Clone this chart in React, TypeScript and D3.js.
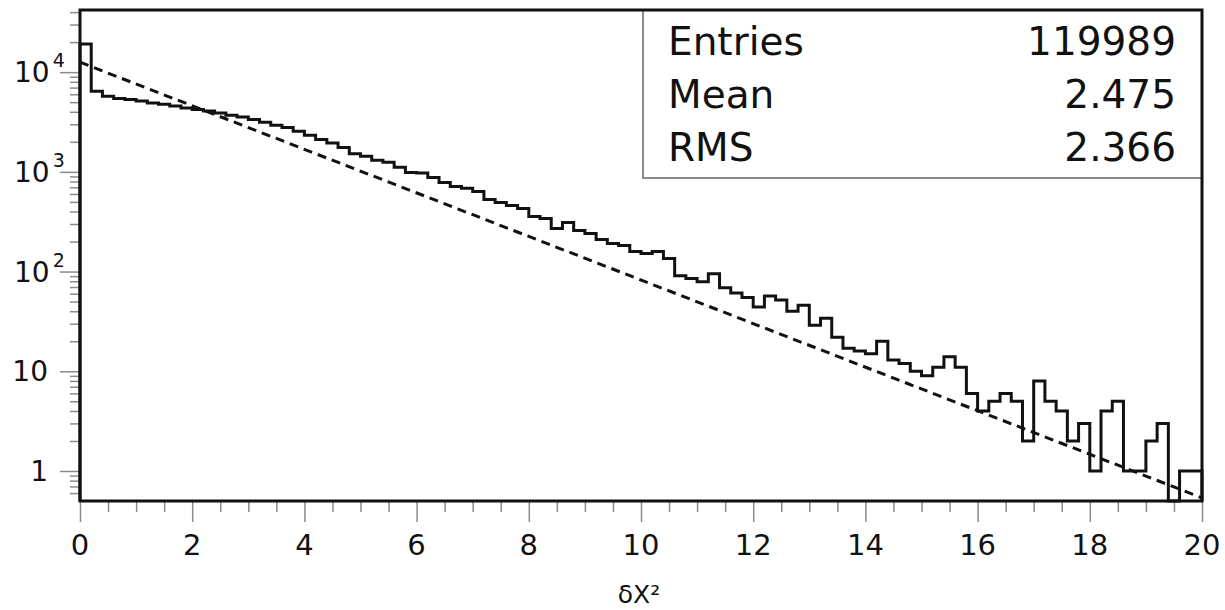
import { useRef, useLayoutEffect } from 'react';
import * as d3 from 'd3';

// histogram: 100 bins of width 0.2 over [0, 20]
const binWidth = 0.2;
const binCounts = [
  19100, 6440, 5740, 5450, 5320, 5150, 4915, 4765, 4580, 4375,
  4220, 4080, 3900, 3700, 3555, 3350, 3145, 2930, 2780, 2550,
  2330, 2105, 1950, 1750, 1520, 1430, 1306, 1245, 1110, 988,
  975, 880, 784, 715, 683, 637, 529, 494, 461, 430,
  357, 341, 271, 311, 258, 241, 210, 191, 183, 159,
  152, 159, 135, 91, 85, 79, 95, 69, 61, 55,
  44, 57, 52, 40, 46, 29, 34, 22, 17, 16,
  15, 20, 13, 12, 10, 9, 11, 14, 11, 6,
  4, 5, 6, 5, 2, 8, 5, 4, 2, 3,
  1, 4, 5, 1, 1, 2, 3, 0, 1, 1,
];

// exponential fit: exp(constant + slope * x)
const fitConstant = 9.44;
const fitSlope = -0.503;

const xMajorTicks = [0, 2, 4, 6, 8, 10, 12, 14, 16, 18, 20];
const xMinorTicks = [1, 3, 5, 7, 9, 11, 13, 15, 17, 19, 0.5, 1.5, 2.5, 3.5, 4.5, 5.5, 6.5, 7.5, 8.5, 9.5, 10.5, 11.5, 12.5, 13.5, 14.5, 15.5, 16.5, 17.5, 18.5, 19.5];
const yDecades = [0, 1, 2, 3, 4];
const yMinorExtra = [0.6, 0.7, 0.8, 0.9, 20000, 30000, 40000];

const statsLabels = ['Entries', 'Mean', 'RMS'];
const statsValues = ['119989', '2.475', '2.366'];
const axisTitle = 'δX²';

export default function App() {
  const svgRef = useRef<SVGSVGElement>(null);

  useLayoutEffect(() => {
    const svgWidth = 1225;
    const svgHeight = 610;
    const frame = { left: 80, top: 10, right: 1202, bottom: 501 };
    const font = '"DejaVu Sans", sans-serif';
    const tickColor = '#8c8c8c';

    const svg = d3.select(svgRef.current).attr('width', svgWidth).attr('height', svgHeight);
    svg.selectAll('*').remove();

    const xScale = d3.scaleLinear().domain([0, 20]).range([frame.left, frame.right]);
    const yScale = d3.scaleLog().domain([0.5, 42000]).range([frame.bottom, frame.top]).clamp(true);

    // stats box (under the frame so frame edges stay black)
    const statsGroup = svg.append('g').attr('class', 'stats');
    statsGroup
      .append('rect')
      .attr('x', 643)
      .attr('y', frame.top)
      .attr('width', frame.right - 643)
      .attr('height', 168)
      .attr('fill', 'white')
      .attr('stroke', '#666')
      .attr('stroke-width', 1.5);
    statsGroup
      .selectAll('.stat-label')
      .data(statsLabels)
      .join('text')
      .attr('class', 'stat-label')
      .attr('x', 668)
      .attr('y', (d, i) => 55 + i * 53)
      .attr('font-family', font)
      .attr('font-size', 39)
      .attr('fill', '#111')
      .text((d) => d);
    statsGroup
      .selectAll('.stat-value')
      .data(statsValues)
      .join('text')
      .attr('class', 'stat-value')
      .attr('x', 1176)
      .attr('y', (d, i) => 55 + i * 53)
      .attr('text-anchor', 'end')
      .attr('font-family', font)
      .attr('font-size', 39)
      .attr('fill', '#111')
      .text((d) => d);

    // y ticks
    const yMajor = yDecades.map((e) => Math.pow(10, e));
    const yMinor = [
      ...yDecades.flatMap((e) => [2, 3, 4, 5, 6, 7, 8, 9].map((m) => m * Math.pow(10, e))).filter((v) => v < 20000),
      ...yMinorExtra,
    ];
    const yAxisMinor = d3.axisLeft(yScale).tickValues(yMinor).tickSize(10).tickFormat(() => '');
    const yAxisMajor = d3.axisLeft(yScale).tickValues(yMajor).tickSize(20).tickFormat(() => '');
    const xAxisMinor = d3.axisBottom(xScale).tickValues(xMinorTicks).tickSize(11).tickFormat(() => '');
    const xAxisMajor = d3.axisBottom(xScale).tickValues(xMajorTicks).tickSize(21).tickFormat(() => '');

    const axes = svg.append('g').attr('class', 'axes');
    axes.append('g').attr('transform', `translate(${frame.left}, 0)`).call(yAxisMinor);
    axes.append('g').attr('transform', `translate(${frame.left}, 0)`).call(yAxisMajor);
    axes.append('g').attr('transform', `translate(0, ${frame.bottom})`).call(xAxisMinor);
    axes.append('g').attr('transform', `translate(0, ${frame.bottom})`).call(xAxisMajor);
    axes.selectAll('.domain').remove();
    axes.selectAll('.tick line').attr('stroke', tickColor).attr('stroke-width', 1.5);

    // y labels
    const yLabels = svg.append('g').attr('class', 'y labels');
    yDecades.forEach((e) => {
      const y = yScale(Math.pow(10, e));
      if (e <= 1) {
        yLabels
          .append('text')
          .attr('x', 48)
          .attr('y', y + 10)
          .attr('text-anchor', 'end')
          .attr('font-family', font)
          .attr('font-size', 28)
          .attr('fill', '#111')
          .text(e === 0 ? '1' : '10');
      } else {
        const t = yLabels
          .append('text')
          .attr('x', 14)
          .attr('y', y + 10)
          .attr('font-family', font)
          .attr('font-size', 28)
          .attr('fill', '#111');
        t.append('tspan').text('10');
        t.append('tspan').attr('dx', 3).attr('dy', -15).attr('font-size', 19).text(String(e));
      }
    });

    // x labels
    svg
      .append('g')
      .attr('class', 'x labels')
      .selectAll('text')
      .data(xMajorTicks)
      .join('text')
      .attr('x', (d) => xScale(d))
      .attr('y', 555)
      .attr('text-anchor', 'middle')
      .attr('font-family', font)
      .attr('font-size', 29)
      .attr('fill', '#111')
      .text((d) => d);

    svg
      .append('text')
      .attr('x', 639)
      .attr('y', 603)
      .attr('text-anchor', 'middle')
      .attr('font-family', font)
      .attr('font-size', 25)
      .attr('fill', '#111')
      .text(axisTitle);

    // histogram step line
    const points: [number, number][] = [[xScale(0), frame.bottom]];
    binCounts.forEach((c, i) => {
      const lo = i * binWidth;
      const hi = (i + 1) * binWidth;
      const y = c > 0 ? yScale(c) : frame.bottom;
      points.push([xScale(lo), y]);
      points.push([xScale(hi), y]);
    });
    points.push([xScale(20), frame.bottom]);

    svg
      .append('path')
      .attr('d', d3.line()(points))
      .attr('fill', 'none')
      .attr('stroke', '#111')
      .attr('stroke-width', 3)
      .attr('stroke-linejoin', 'miter');

    // fit line
    const fitLine = d3
      .line<number>()
      .x((d) => xScale(d))
      .y((d) => yScale(Math.exp(fitConstant + fitSlope * d)));
    svg
      .append('path')
      .attr('d', fitLine([0, 20]))
      .attr('fill', 'none')
      .attr('stroke', '#111')
      .attr('stroke-width', 3)
      .attr('stroke-dasharray', '9 6');

    // frame
    svg
      .append('rect')
      .attr('x', frame.left)
      .attr('y', frame.top)
      .attr('width', frame.right - frame.left)
      .attr('height', frame.bottom - frame.top)
      .attr('fill', 'none')
      .attr('stroke', '#111')
      .attr('stroke-width', 3);
  }, []);

  return (
    <div>
      <svg ref={svgRef} style={{ position: 'absolute', left: 0, top: 0, background: 'white' }} />
    </div>
  );
}
